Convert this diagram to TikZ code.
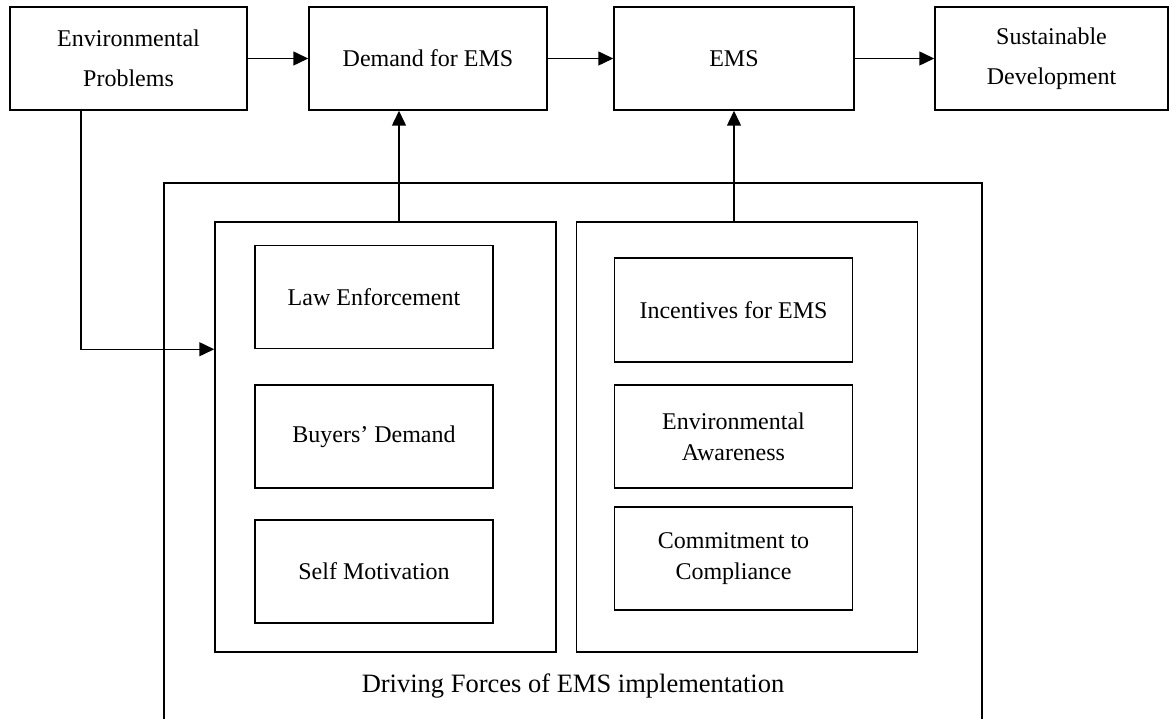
\documentclass[tikz,border=0pt]{standalone}
\usepackage{fontspec}
\setmainfont{Liberation Serif}
\usetikzlibrary{arrows.meta,positioning,calc}
\tikzset{
  box/.style = {draw=black, line width=1.5pt, align=center, inner sep=2pt,
    font=\fontsize{24}{40}\selectfont},
  topbox/.style = {box, minimum height=103pt},% top row
  item/.style = {box, minimum width=238pt, minimum height=103pt,
    font=\fontsize{24}{31}\selectfont},% driving force
  group/.style = {draw=black, line width=1.5pt, minimum width=341pt,
    minimum height=430pt},
  flow/.style = {line width=1.5pt, -{Triangle[length=15pt,width=14pt]}}
}
\begin{document}
\begin{tikzpicture}[x=1pt, y=-1pt]
\useasboundingbox (0,0) rectangle (1170,719);

% top row
\node[topbox, minimum width=237pt] (envp) at (128.5,58.5) {Environmental\\Problems};
\node[topbox, minimum width=238pt] (demand) at (428,58.5) {Demand for EMS};
\node[topbox, minimum width=240pt] (ems) at (734,58.5) {EMS};
\node[topbox, minimum width=233pt] (sustdev) at (1051.5,58.5) {Sustainable\\Development};

% driving forces frame
\draw[line width=1.5pt] (164,719) |- (982,183) -- (982,719);
\node[group] (leftgrp) at (385.5,437) {};
\node[group] (rightgrp) at (747,437) {};

\node[item] (law) at (374,297) {Law Enforcement};
\node[item] (buyers) at (374,436.5) {Buyers' Demand};
\node[item] (selfmot) at (374,571.5) {Self Motivation};

\node[item, minimum height=104pt] (incent) at (733.5,310) {Incentives for EMS};
\node[item] (aware) at (733.5,436.5) {Environmental\\Awareness};
\node[item] (commit) at (733.5,558.5) {Commitment to\\Compliance};

\node[font=\fontsize{26.5}{30}\selectfont] (dflabel) at (573,686) {Driving Forces of EMS implementation};

% connectors
\draw[flow] (envp) -- (demand);
\draw[flow] (demand) -- (ems);
\draw[flow] (ems) -- (sustdev);
\coordinate (upL) at (399,222);
\draw[flow] (upL) -- (upL |- demand.south);
\draw[flow] (rightgrp.north -| ems.south) -- (ems.south);
\draw[flow] ($(envp.south west)!0.3!(envp.south east)$) |- (law.south -| leftgrp.west);
\end{tikzpicture}
\end{document}
